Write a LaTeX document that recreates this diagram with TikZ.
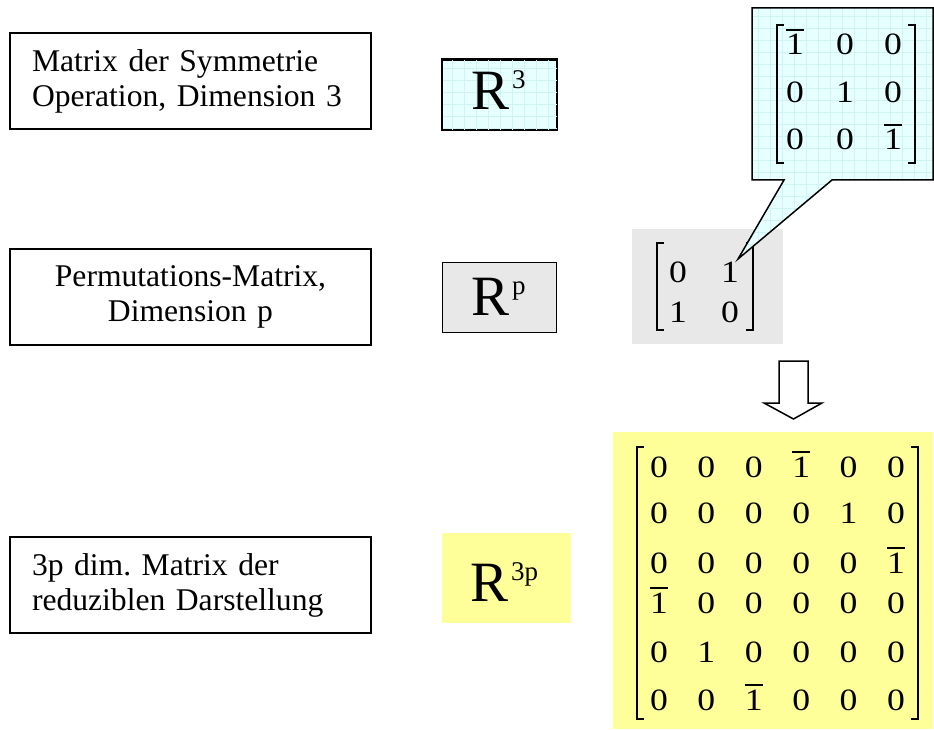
\documentclass[tikz,border=0pt]{standalone}
\usepackage{fontspec}
\setmainfont{Liberation Serif}
\frenchspacing
\definecolor{cyanfill}{RGB}{230,255,255}
\definecolor{cyangrid}{RGB}{208,244,244}
\definecolor{grayfill}{RGB}{232,232,232}
\definecolor{yellowfill}{RGB}{255,255,153}
\newcommand{\bone}{\vbox{\hrule height 1.3pt\kern 4pt\hbox{1}}}
\newcommand{\wide}[1]{\scalebox{1.15}[1]{#1}}
\tikzset{
  labelbox/.style={draw, line width=1.5pt, minimum width=361pt, minimum height=96pt,
    inner ysep=0pt, font=\fontsize{31.6}{35}\selectfont},
  rbox/.style={draw, line width=1.5pt, minimum width=114pt, minimum height=70pt, inner sep=0pt},
  rtext/.style={anchor=base west, inner sep=0pt},
  entry/.style={anchor=base, inner sep=0pt, font=\fontsize{31}{32}\selectfont},
  brk/.style={line width=1.5pt},
  outl/.style={line width=1.5pt},
  gridline/.style={cyangrid, line width=0.6pt},
}
\newcommand{\Rsym}[1]{{\fontsize{57}{60}\selectfont R}\kern 3pt\raisebox{21pt}{\fontsize{27}{30}\selectfont #1}}
\begin{document}
\begin{tikzpicture}[x=1pt,y=-1pt]
\useasboundingbox (0,0) rectangle (934,730);

% left label boxes
\node[labelbox, text width=317pt, inner xsep=22pt, align=left] (lab1) at (190.5,81)
  {Matrix der Symmetrie\\Operation, Dimension 3};
\node[labelbox, text width=317pt, inner xsep=22pt, align=center] (lab2) at (190.5,297)
  {Permutations-Matrix,\\Dimension p};
\node[labelbox, text width=317pt, inner xsep=22pt, align=left] (lab3) at (190.5,585)
  {3p dim. Matrix der\\reduziblen Darstellung};

% R^3 box with grid
\node[rbox, fill=cyanfill] (rb3) at (499.5,95) {};
\begin{scope}
  \clip (rb3.north west) rectangle (rb3.south east);
  \foreach \gx in {0,...,12} \draw[gridline] ({440+12*\gx},55) -- ({440+12*\gx},135);
  \foreach \gy in {0,...,7} \draw[gridline] (435,{56+12*\gy}) -- (565,{56+12*\gy});
\end{scope}
\draw[outl] (rb3.north west) rectangle (rb3.south east);
\node[rtext] (r3) at (471,110) {\Rsym{3}};

% R^p box
\node[rbox, fill=grayfill] (rbp) at (499.5,297.5) {};
\node[rtext] (rp) at (471,315) {\Rsym{p}};

% R^3p box
\node[fill=yellowfill, minimum width=129pt, minimum height=90pt, inner sep=0pt] (rb3p) at (506.5,578) {};
\node[rtext] (r3p) at (470,601) {\Rsym{3p}};

% gray permutation box
\node[fill=grayfill, minimum width=151pt, minimum height=115pt, inner sep=0pt] (pbox) at (707.5,286.5) {};
\node[entry] (p11) at (678,282) {\wide{0}};
\node[entry] (p12) at (730,282) {\wide{1}};
\node[entry] (p21) at (678,322) {\wide{1}};
\node[entry] (p22) at (730,322) {\wide{0}};
\draw[brk] (664,243) -- (657,243) -- (657,330) -- (664,330);
\draw[brk] (746,243) -- (753,243) -- (753,330) -- (746,330);

% callout
\coordinate (tip) at (738,259);
\path[fill=cyanfill] (752,8) -- (933,8) -- (933,180) -- (832,180) -- (tip) -- (784,180) -- (752,180) -- cycle;
\begin{scope}
  \clip (752,8) -- (933,8) -- (933,180) -- (832,180) -- (tip) -- (784,180) -- (752,180) -- cycle;
  \foreach \gx in {0,...,17} \draw[gridline] ({734+12*\gx},0) -- ({734+12*\gx},265);
  \foreach \gy in {0,...,22} \draw[gridline] (730,{4+12*\gy}) -- (940,{4+12*\gy});
\end{scope}
\draw[outl, line join=miter] (752,8) -- (933,8) -- (933,180) -- (832,180) -- (tip) -- (784,180) -- (752,180) -- cycle;
\node[entry] (c11) at (795,55) {\wide{\bone}};
\node[entry] (c12) at (845,55) {\wide{0}};
\node[entry] (c13) at (893,55) {\wide{0}};
\node[entry] (c21) at (795,103) {\wide{0}};
\node[entry] (c22) at (845,103) {\wide{1}};
\node[entry] (c23) at (893,103) {\wide{0}};
\node[entry] (c31) at (795,150) {\wide{0}};
\node[entry] (c32) at (845,150) {\wide{0}};
\node[entry] (c33) at (893,150) {\wide{\bone}};
\draw[brk] (784,25) -- (777,25) -- (777,163) -- (784,163);
\draw[brk] (908,25) -- (915,25) -- (915,163) -- (908,163);

% block arrow
\draw[outl, fill=white, line join=miter] (779,361) -- (808,361) -- (808,403) -- (822,403) -- (793.5,419) -- (764,403) -- (779,403) -- cycle;

% big matrix
\node[fill=yellowfill, minimum width=320pt, minimum height=297pt, inner sep=0pt] (mbox) at (773,580.5) {};
\foreach \t [count=\i] in {0,0,0,\bone,0,0}
  \node[entry] (m1-\i) at ({659+47.4*(\i-1)},477) {\wide{\t}};
\foreach \t [count=\i] in {0,0,0,0,1,0}
  \node[entry] (m2-\i) at ({659+47.4*(\i-1)},523) {\wide{\t}};
\foreach \t [count=\i] in {0,0,0,0,0,\bone}
  \node[entry] (m3-\i) at ({659+47.4*(\i-1)},573) {\wide{\t}};
\foreach \t [count=\i] in {\bone,0,0,0,0,0}
  \node[entry] (m4-\i) at ({659+47.4*(\i-1)},613) {\wide{\t}};
\foreach \t [count=\i] in {0,1,0,0,0,0}
  \node[entry] (m5-\i) at ({659+47.4*(\i-1)},662) {\wide{\t}};
\foreach \t [count=\i] in {0,0,\bone,0,0,0}
  \node[entry] (m6-\i) at ({659+47.4*(\i-1)},710) {\wide{\t}};
\draw[brk] (644,447) -- (637,447) -- (637,719) -- (644,719);
\draw[brk] (911,447) -- (918,447) -- (918,719) -- (911,719);
\end{tikzpicture}
\end{document}
